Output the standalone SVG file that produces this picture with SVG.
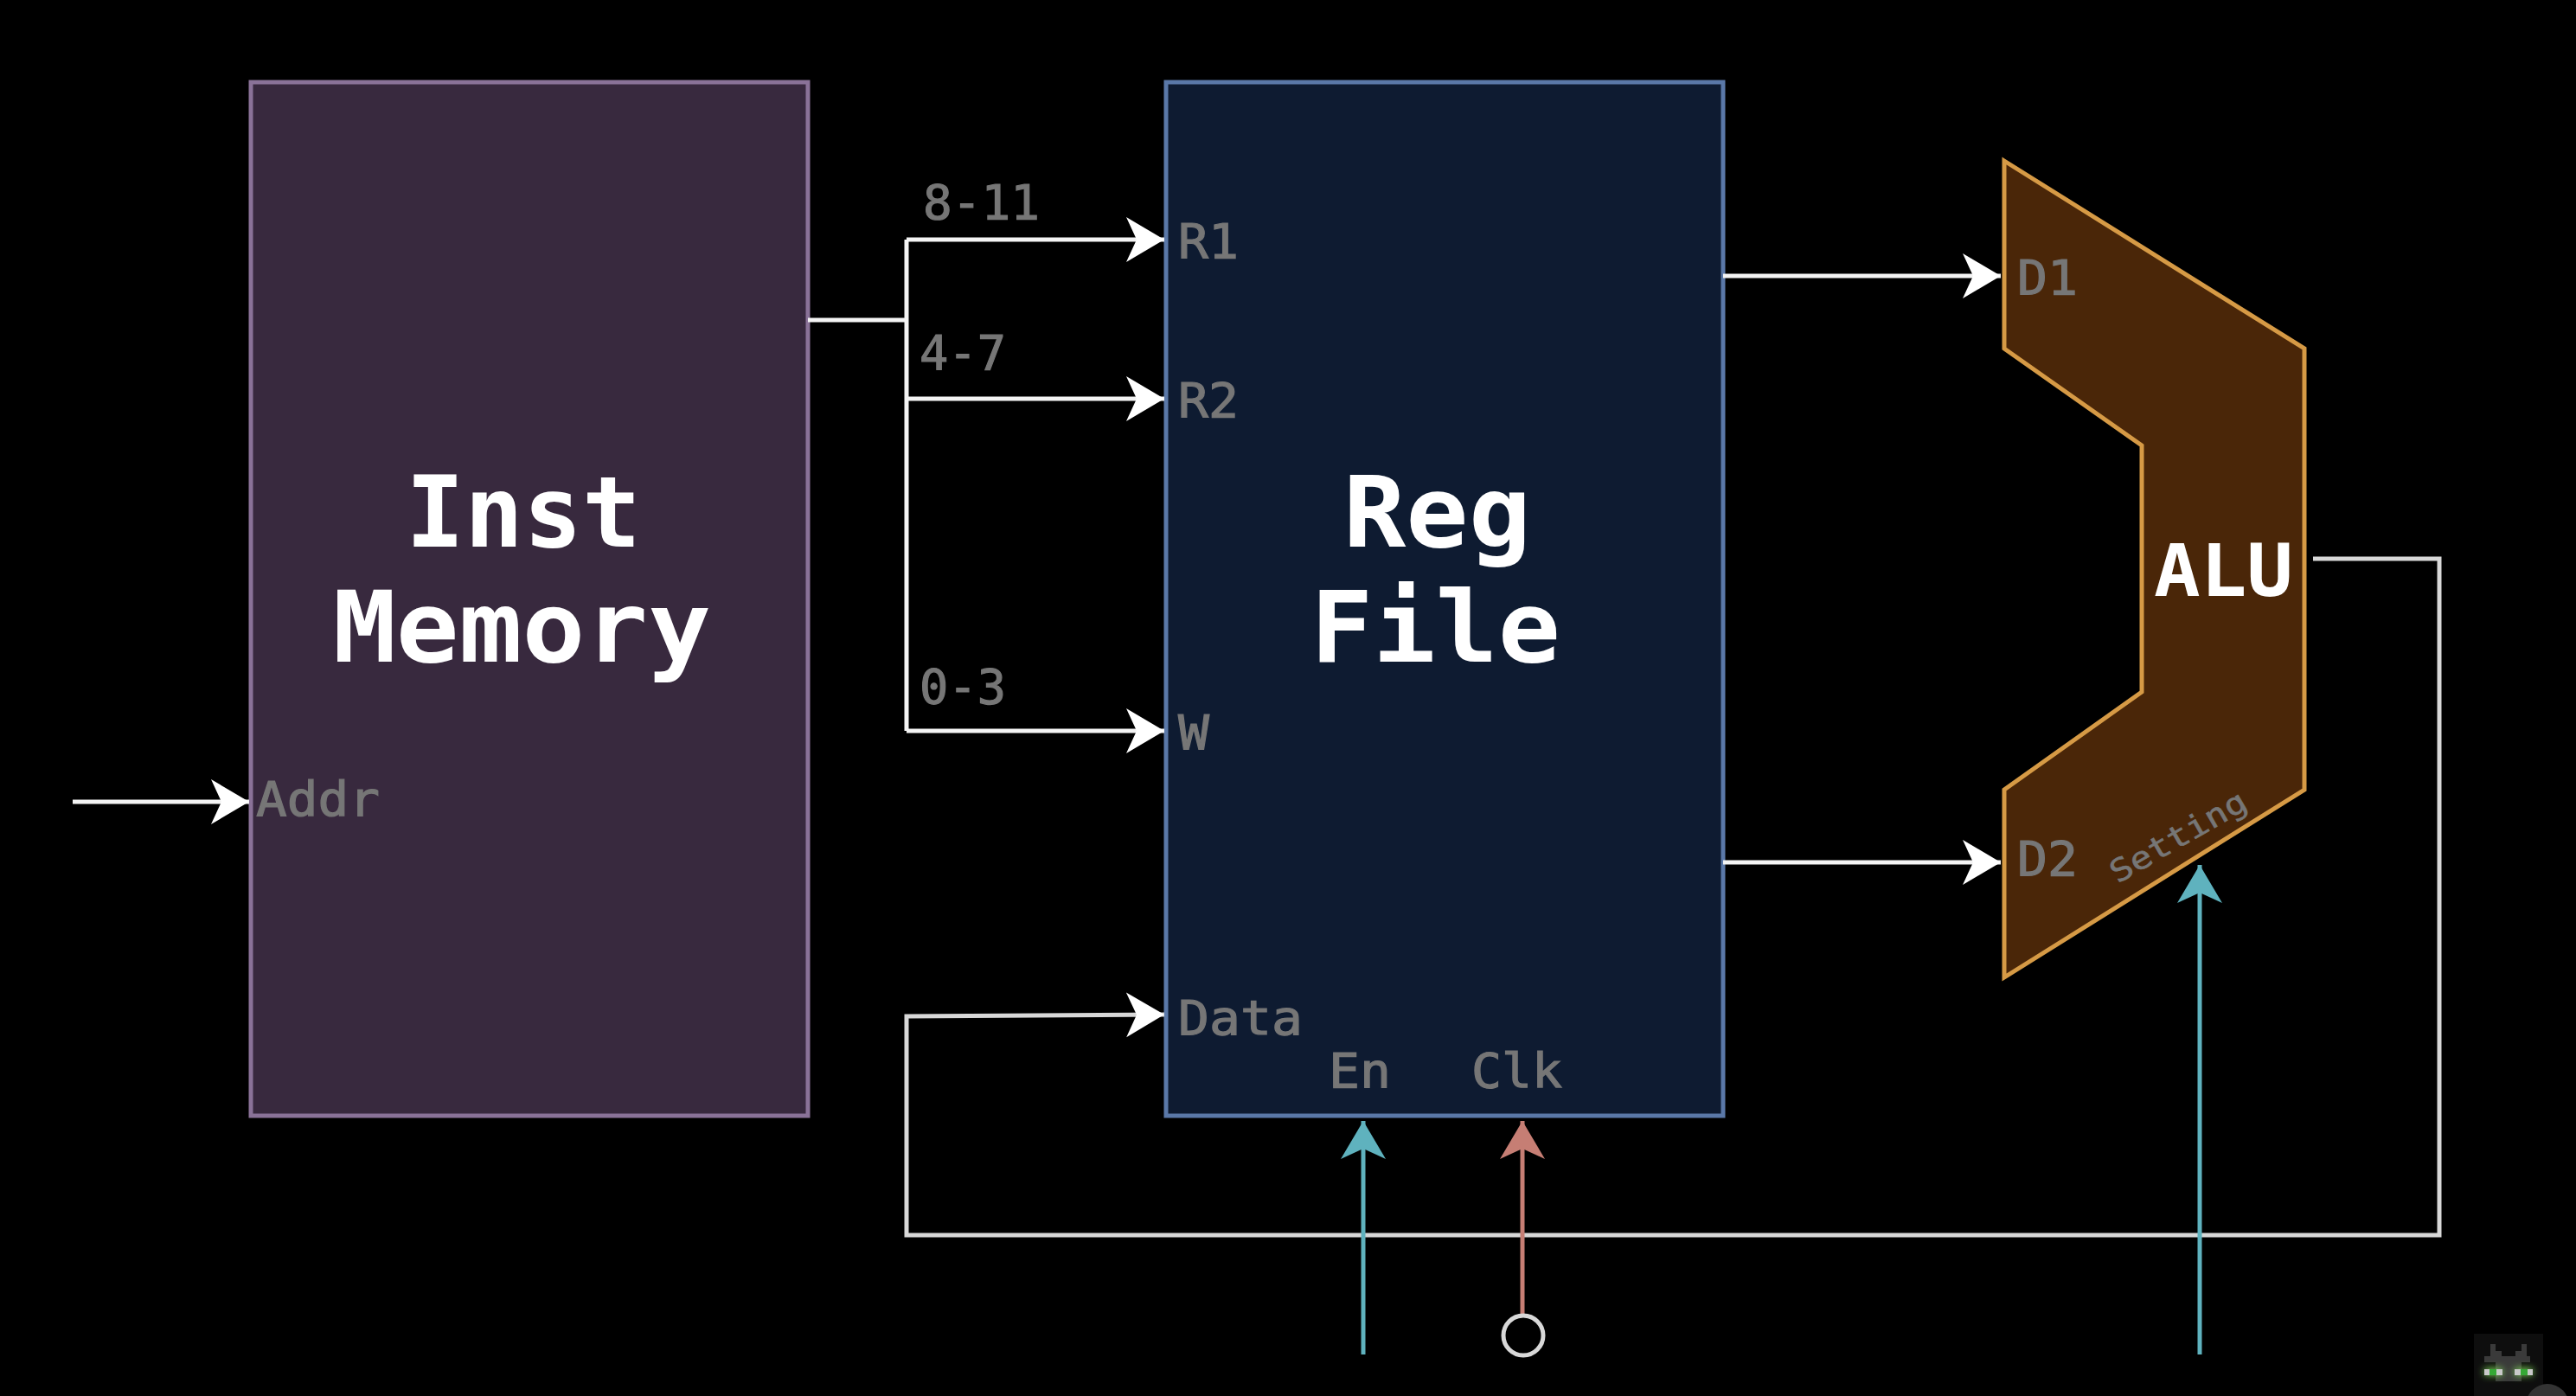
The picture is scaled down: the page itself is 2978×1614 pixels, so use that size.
<svg xmlns="http://www.w3.org/2000/svg" width="2978" height="1614" viewBox="0 0 2978 1614">
<defs>
<style>
.t{font-family:"DejaVu Sans Mono","Liberation Mono",monospace;font-weight:700;fill:#fff;font-size:114px}
.l{font-family:"DejaVu Sans Mono","Liberation Mono",monospace;font-weight:400;fill:#767676;stroke:#767676;stroke-width:1.2px;font-size:56px}
.w{fill:none;stroke:#f4f4f4;stroke-width:5}
.g{fill:none;stroke:#d8d8d8;stroke-width:5}
.te{fill:none;stroke:#5fb2be;stroke-width:5}
.re{fill:none;stroke:#c67e74;stroke-width:5}
</style>
<marker id="aw" markerUnits="userSpaceOnUse" markerWidth="46" markerHeight="54" refX="44" refY="26" orient="auto"><path d="M0 0L44 26L0 52L12 26Z" fill="#fff"/></marker>
<marker id="at" markerUnits="userSpaceOnUse" markerWidth="46" markerHeight="54" refX="44" refY="26" orient="auto"><path d="M0 0L44 26L0 52L12 26Z" fill="#5fb2be"/></marker>
<marker id="ar" markerUnits="userSpaceOnUse" markerWidth="46" markerHeight="54" refX="44" refY="26" orient="auto"><path d="M0 0L44 26L0 52L12 26Z" fill="#c67e74"/></marker>
<filter id="glow" x="-50%" y="-150%" width="200%" height="400%"><feGaussianBlur stdDeviation="4"/></filter>
</defs>
<rect width="2978" height="1614" fill="#000"/>
<g id="inst-memory">
<rect x="290" y="95" width="644" height="1195" fill="#38293e" stroke="#8a7298" stroke-width="5"/>
<text class="t" x="469" y="632" textLength="272" lengthAdjust="spacingAndGlyphs">Inst</text>
<text class="t" x="385" y="765" textLength="437" lengthAdjust="spacingAndGlyphs">Memory</text>
<text class="l" x="296" y="943" textLength="143" lengthAdjust="spacingAndGlyphs">Addr</text>
</g>
<g id="reg-file">
<rect x="1348" y="95" width="644" height="1195" fill="#0e1b31" stroke="#5a78a8" stroke-width="5"/>
<text class="t" x="1553" y="632" textLength="217" lengthAdjust="spacingAndGlyphs">Reg</text>
<text class="t" x="1515" y="765" textLength="289" lengthAdjust="spacingAndGlyphs">File</text>
<text class="l" x="1362" y="298" textLength="70" lengthAdjust="spacingAndGlyphs">R1</text>
<text class="l" x="1362" y="482" textLength="70" lengthAdjust="spacingAndGlyphs">R2</text>
<text class="l" x="1362" y="866" textLength="36" lengthAdjust="spacingAndGlyphs">W</text>
<text class="l" x="1362" y="1196" textLength="144" lengthAdjust="spacingAndGlyphs">Data</text>
<text class="l" x="1536" y="1257" textLength="72" lengthAdjust="spacingAndGlyphs">En</text>
<text class="l" x="1701" y="1257" textLength="105" lengthAdjust="spacingAndGlyphs">Clk</text>
</g>
<g id="alu">
<polygon points="2317,186 2664,403 2664,913 2317,1130 2317,913 2476,800 2476,515 2317,403" fill="#4a2608" stroke="#d69a45" stroke-width="5"/>
<text class="t" style="font-size:84px" x="2490" y="689" textLength="161" lengthAdjust="spacingAndGlyphs">ALU</text>
<text class="l" x="2332" y="340" textLength="70" lengthAdjust="spacingAndGlyphs">D1</text>
<text class="l" x="2332" y="1012" textLength="70" lengthAdjust="spacingAndGlyphs">D2</text>
<text class="l" style="font-size:36px;stroke-width:.6px" transform="translate(2448 1022) rotate(-30)" textLength="176" lengthAdjust="spacingAndGlyphs">Setting</text>
</g>
<g id="labels">
<text class="l" x="1067" y="253" textLength="135" lengthAdjust="spacingAndGlyphs">8-11</text>
<text class="l" x="1063" y="427" textLength="100" lengthAdjust="spacingAndGlyphs">4-7</text>
<text class="l" x="1063" y="813" textLength="100" lengthAdjust="spacingAndGlyphs">0-3</text>
</g>
<g id="connectors">
<path class="w" d="M934 370H1048"/>
<path class="w" d="M1048 277V845"/>
<path class="w" d="M1048 277H1346" marker-end="url(#aw)"/>
<path class="w" d="M1048 461H1346" marker-end="url(#aw)"/>
<path class="w" d="M1048 845H1346" marker-end="url(#aw)"/>
<path class="w" d="M84 927H288" marker-end="url(#aw)"/>
<path class="w" d="M1992 319H2313" marker-end="url(#aw)"/>
<path class="w" d="M1992 997H2313" marker-end="url(#aw)"/>
<path class="g" d="M2674 646H2820V1428H1048V1175L1346 1173" marker-end="url(#aw)"/>
<path class="te" d="M1576 1566V1296" marker-end="url(#at)"/>
<path class="te" d="M2543 1566V1000" marker-end="url(#at)"/>
<path class="re" d="M1760 1519V1296" marker-end="url(#ar)"/>
</g>
<g id="clock-source">
<circle cx="1761" cy="1544" r="23" fill="none" stroke="#d8d8d8" stroke-width="5"/>
</g>
<g id="corner-icon">
<rect x="2860" y="1542" width="80" height="72" fill="#0e0e0e"/>
<path d="M2879 1554H2885V1562H2892V1568H2908V1562H2915V1554H2921V1568H2925V1575H2915V1597H2885V1575H2872V1568H2879Z" fill="#3a3a3a"/>
<rect x="2872" y="1582" width="21" height="8" fill="#7ed957" filter="url(#glow)"/>
<rect x="2907" y="1582" width="21" height="8" fill="#7ed957" filter="url(#glow)"/>
<rect x="2872" y="1583" width="21" height="7" fill="#c9c9c9"/>
<rect x="2907" y="1583" width="21" height="7" fill="#c9c9c9"/>
<rect x="2878" y="1583" width="8" height="7" fill="#35a835"/>
<rect x="2914" y="1583" width="8" height="7" fill="#35a835"/>
<circle cx="2945" cy="1625" r="25" fill="#333"/>
</g>
</svg>
